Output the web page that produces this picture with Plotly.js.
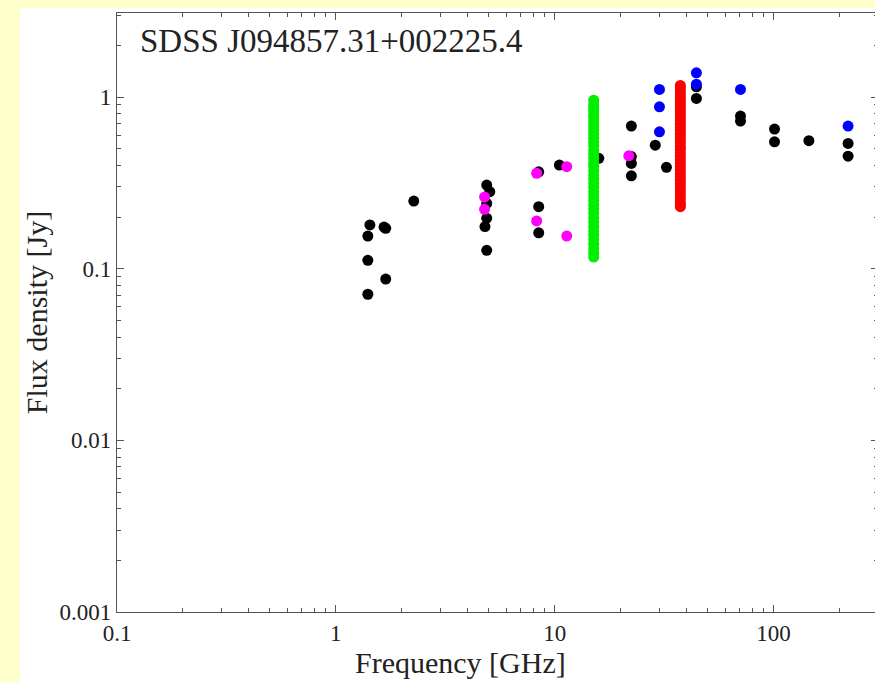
<!DOCTYPE html>
<html>
<head>
<meta charset="utf-8">
<script src="https://cdn.plot.ly/plotly-3.0.1.min.js"></script>
<style>
  html, body { margin: 0; padding: 0; width: 875px; height: 682px; overflow: hidden; background: #ffffcc; }
  #chart { position: absolute; left: 20px; top: 8px; width: 860px; height: 674px; }
</style>
</head>
<body>
<div id="chart"></div>
<script>
// ---- data ----
const blackFreq = [1.40, 1.43, 1.40, 1.40, 1.66, 1.69, 1.69, 2.27,
                   4.89, 5.05, 4.89, 4.89, 4.80, 4.89,
                   8.45, 8.45, 8.45, 10.5, 15.9,
                   22.4, 22.4, 22.4, 22.4, 28.8, 32.4,
                   44.4, 44.4, 70.6, 70.6, 101, 101, 145, 219, 219];
const blackFlux = [0.155, 0.180, 0.112, 0.071, 0.175, 0.172, 0.087, 0.248,
                   0.307, 0.281, 0.240, 0.197, 0.176, 0.128,
                   0.367, 0.230, 0.162, 0.402, 0.44,
                   0.678, 0.45, 0.411, 0.348, 0.525, 0.390,
                   1.148, 0.983, 0.775, 0.725, 0.651, 0.549, 0.557, 0.537, 0.453];

const magentaFreq = [4.78, 4.78, 8.27, 8.27, 11.35, 11.35, 21.8];
const magentaFlux = [0.262, 0.222, 0.360, 0.190, 0.393, 0.155, 0.455];

const greenFreq = 15.07;
const greenFlux = [0.96, 0.91, 0.87, 0.83, 0.785, 0.75, 0.71, 0.675, 0.64, 0.61,
                   0.575, 0.545, 0.52, 0.49, 0.465, 0.44, 0.415, 0.395, 0.372, 0.352,
                   0.333, 0.315, 0.298, 0.281, 0.266, 0.251, 0.237, 0.223, 0.211, 0.198,
                   0.187, 0.176, 0.166, 0.157, 0.148, 0.139, 0.131, 0.124, 0.117];

const redFreq = 37.5;
const redFlux = [1.17, 1.13, 1.085, 1.045, 1.0, 0.965, 0.925, 0.89, 0.855, 0.82,
                 0.79, 0.755, 0.725, 0.695, 0.665, 0.64, 0.612, 0.588, 0.563, 0.54,
                 0.515, 0.495, 0.472, 0.452, 0.432, 0.413, 0.395, 0.377, 0.36, 0.344,
                 0.328, 0.313, 0.299, 0.285, 0.271, 0.258, 0.245, 0.236, 0.23];

const blueFreq = [30.1, 30.1, 30.1, 44.4, 44.4, 70.6, 219];
const blueFlux = [1.109, 0.878, 0.628, 1.385, 1.19, 1.109, 0.678];

const xTickVals = [0.1, 1, 10, 100];
const xTickText = ['0.1', '1', '10', '100'];
const yTickVals = [0.001, 0.01, 0.1, 1];
const yTickText = ['0.001', '0.01', '0.1', '1'];
const xMinor = [0.2,0.3,0.4,0.5,0.6,0.7,0.8,0.9, 2,3,4,5,6,7,8,9, 20,30,40,50,60,70,80,90, 200,300];
const yMinor = [0.002,0.003,0.004,0.005,0.006,0.007,0.008,0.009,
                0.02,0.03,0.04,0.05,0.06,0.07,0.08,0.09,
                0.2,0.3,0.4,0.5,0.6,0.7,0.8,0.9, 2,3];

const titleText = 'SDSS J094857.31+002225.4';
const xTitle = 'Frequency [GHz]';
const yTitle = 'Flux density [Jy]';

// ---- plot ----
const mk = (c) => ({ color: c, size: 11, line: { width: 0 } });
const rep = (v, n) => Array(n).fill(v);

const traces = [
  { x: blackFreq, y: blackFlux, mode: 'markers', type: 'scatter', marker: mk('#000000'), name: 'archive' },
  { x: magentaFreq, y: magentaFlux, mode: 'markers', type: 'scatter', marker: mk('#ff00ff'), name: 'magenta' },
  { x: rep(greenFreq, greenFlux.length), y: greenFlux, mode: 'markers', type: 'scatter', marker: mk('#00ee00'), name: 'OVRO 15 GHz' },
  { x: rep(redFreq, redFlux.length), y: redFlux, mode: 'markers', type: 'scatter', marker: mk('#ff0000'), name: 'Metsahovi 37 GHz' },
  { x: blueFreq, y: blueFlux, mode: 'markers', type: 'scatter', marker: mk('#0000ff'), name: 'Planck' }
];

const fontFam = 'Liberation Serif, Times New Roman, serif';
const axisCommon = {
  type: 'log',
  showline: true, linecolor: '#555555', linewidth: 1.2,
  mirror: 'allticks',
  ticks: 'inside', ticklen: 7, tickwidth: 1, tickcolor: '#555555',
  tickmode: 'array',
  showgrid: false, zeroline: false,
  tickfont: { family: fontFam, size: 23, color: '#222222' }
};

const layout = {
  width: 860, height: 674,
  margin: { l: 97, r: 2, t: 5, b: 70 },
  paper_bgcolor: '#ffffff', plot_bgcolor: '#ffffff',
  showlegend: false,
  font: { family: fontFam, color: '#222222' },
  xaxis: Object.assign({}, axisCommon, {
    range: [-1, Math.log10(300)],
    tickvals: xTickVals, ticktext: xTickText,
    minor: { tickmode: 'array', tickvals: xMinor, ticks: 'inside', ticklen: 4, tickcolor: '#555555', showgrid: false }
  }),
  yaxis: Object.assign({}, axisCommon, {
    range: [-3, 0.49],
    tickvals: yTickVals, ticktext: yTickText,
    minor: { tickmode: 'array', tickvals: yMinor, ticks: 'inside', ticklen: 4, tickcolor: '#555555', showgrid: false },
    title: { text: yTitle, font: { family: fontFam, size: 30, color: '#222222' }, standoff: 6 }
  }),
  annotations: [
    {
      text: titleText, xref: 'paper', yref: 'paper', x: 0.028, y: 0.987,
      xanchor: 'left', yanchor: 'top', showarrow: false,
      font: { family: fontFam, size: 33, color: '#222222' }
    },
    {
      text: xTitle, xref: 'paper', yref: 'paper', x: 0.452, y: -0.084,
      xanchor: 'center', yanchor: 'middle', showarrow: false,
      font: { family: fontFam, size: 30, color: '#222222' }
    }
  ]
};

Plotly.newPlot('chart', traces, layout, { displayModeBar: false, staticPlot: true });
</script>
</body>
</html>
